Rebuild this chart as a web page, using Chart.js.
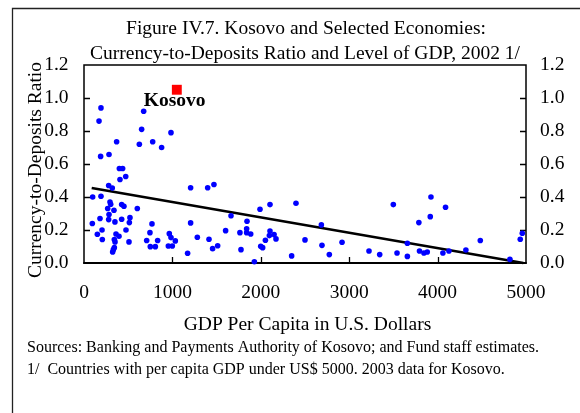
<!DOCTYPE html>
<html>
<head>
<meta charset="utf-8">
<script src="https://cdn.jsdelivr.net/npm/chart.js@4/dist/chart.umd.min.js"></script>
<style>
  html, body { margin: 0; padding: 0; background: #fff; }
  canvas { display: block; }
</style>
</head>
<body>
<canvas id="chart" width="580" height="413"></canvas>
<script>
// GDP per capita (US$) and currency-to-deposits ratio, selected economies
const gdpPerCapita = [
    192, 170, 675, 652, 984, 369, 626, 777, 878, 188,
    283, 400, 437, 472, 407, 279, 320, 98, 192, 294,
    302, 426, 452, 268, 339, 603, 1206, 1399, 1470, 283,
    520, 426, 181, 279, 350, 513, 94, 769, 1206, 475,
    204, 151, 362, 396, 746, 965, 984, 207, 343, 351,
    509, 709, 833, 1033, 1282, 1414, 1602, 1663, 1844, 1840,
    1840, 1886, 1764, 1512, 1455, 1776, 343, 332, 324, 750,
    807, 954, 999, 1172, 1927, 1991, 2104, 2398, 1999, 2021,
    2052, 2104, 2097, 2150, 2172, 2349, 2500, 2685, 2692, 2775,
    2919, 3224, 3345, 3499, 3541, 3658, 3658, 3788, 3795, 3925,
    3917, 4090, 3845, 3883, 4060, 4128, 4320, 4483, 4818, 4935,
    4958
];
const currencyRatio = [
    0.94, 0.86, 0.92, 0.81, 0.79, 0.735, 0.72, 0.735, 0.70, 0.646,
    0.658, 0.573, 0.573, 0.524, 0.506, 0.47, 0.454, 0.40, 0.405, 0.37,
    0.356, 0.354, 0.344, 0.33, 0.32, 0.33, 0.456, 0.456, 0.476, 0.294,
    0.275, 0.265, 0.27, 0.263, 0.249, 0.245, 0.239, 0.237, 0.243, 0.20,
    0.20, 0.174, 0.176, 0.162, 0.184, 0.178, 0.154, 0.142, 0.142, 0.128,
    0.128, 0.136, 0.136, 0.134, 0.156, 0.144, 0.196, 0.286, 0.253, 0.207,
    0.184, 0.176, 0.184, 0.105, 0.087, 0.081, 0.093, 0.081, 0.067, 0.099,
    0.099, 0.103, 0.103, 0.059, 0.008, 0.326, 0.354, 0.362, 0.101, 0.093,
    0.138, 0.194, 0.166, 0.172, 0.146, 0.043, 0.14, 0.231, 0.107, 0.051,
    0.126, 0.073, 0.051, 0.354, 0.061, 0.12, 0.04, 0.245, 0.073, 0.40,
    0.281, 0.338, 0.061, 0.067, 0.061, 0.073, 0.079, 0.136, 0.022, 0.144,
    0.18
];
const kosovoGdp = [1050];
const kosovoRatio = [1.05];
const trendGdp = [87, 4970];
const trendRatio = [0.454, 0.0];
const xTickValues = [0, 1000, 2000, 3000, 4000, 5000];
const yTickValues = [0, 0.2, 0.4, 0.6, 0.8, 1.0, 1.2];

const titleLines = [
    'Figure IV.7. Kosovo and Selected Economies:',
    'Currency-to-Deposits Ratio and Level of GDP, 2002 1/'
];
const xTitle = 'GDP Per Capita in U.S. Dollars';
const yTitle = 'Currency-to-Deposits Ratio';
const notes = [
    'Sources: Banking and Payments Authority of Kosovo; and Fund staff estimates.',
    '1/  Countries with per capita GDP under US$ 5000. 2003 data for Kosovo.'
];

const SERIF = '"Liberation Serif", "Times New Roman", serif';
const FONT_SIZE = 19.5;

const toPoints = (xs, ys) => xs.map((x, i) => ({ x, y: ys[i] }));

const textPlugin = {
    id: 'figureText',
    beforeDatasetsDraw(chart) {
        const { ctx, chartArea: { left, top, right, bottom } } = chart;
        const xs = chart.scales.x;
        const ys = chart.scales.y;
        ctx.save();
        ctx.strokeStyle = '#000';

        // inner tick marks
        ctx.lineWidth = 1.3;
        ctx.beginPath();
        xTickValues.slice(1, -1).forEach(v => {
            const px = Math.round(xs.getPixelForValue(v)) + 0.5;
            ctx.moveTo(px, bottom);
            ctx.lineTo(px, bottom - 6);
        });
        yTickValues.slice(1, -1).forEach(v => {
            const py = Math.round(ys.getPixelForValue(v)) + 0.5;
            ctx.moveTo(left, py);
            ctx.lineTo(left + 6, py);
            ctx.moveTo(right, py);
            ctx.lineTo(right - 6, py);
        });
        ctx.stroke();

        // plot frame
        ctx.lineWidth = 1.5;
        ctx.strokeRect(left, top, right - left, bottom - top);
        ctx.lineWidth = 2;
        ctx.beginPath();
        ctx.moveTo(left - 0.75, bottom);
        ctx.lineTo(right + 0.75, bottom);
        ctx.stroke();
        ctx.restore();
    },
    afterDraw(chart) {
        const { ctx } = chart;
        ctx.save();

        // outer figure border (clipped on right and bottom)
        ctx.strokeStyle = '#222';
        ctx.lineWidth = 1.3;
        ctx.beginPath();
        ctx.moveTo(12.5, 413);
        ctx.lineTo(12.5, 8.5);
        ctx.lineTo(580, 8.5);
        ctx.stroke();

        ctx.fillStyle = '#000';
        ctx.textBaseline = 'alphabetic';

        ctx.font = `${FONT_SIZE}px ${SERIF}`;
        ctx.textAlign = 'center';
        ctx.fillText(titleLines[0], 306, 33.5);
        ctx.fillText(titleLines[1], 305, 58.5);
        ctx.fillText(xTitle, 307.5, 330);

        ctx.save();
        ctx.translate(41, 170);
        ctx.rotate(-Math.PI / 2);
        ctx.fillText(yTitle, 0, 0);
        ctx.restore();

        // Kosovo label next to its marker
        const kx = chart.scales.x.getPixelForValue(kosovoGdp[0]);
        const ky = chart.scales.y.getPixelForValue(kosovoRatio[0]);
        ctx.font = `bold ${FONT_SIZE}px ${SERIF}`;
        ctx.textAlign = 'left';
        ctx.fillText('Kosovo', kx - 33, ky + 16);

        ctx.font = `16px ${SERIF}`;
        ctx.fillText(notes[0], 27, 351.5);
        ctx.fillText(notes[1], 27, 373.5);
        ctx.restore();
    }
};

const tickFont = { family: SERIF, size: FONT_SIZE };

const yAxis = (position, padding, width) => ({
    type: 'linear',
    position,
    min: 0,
    max: 1.2,
    afterBuildTicks: scale => { scale.ticks = yTickValues.map(value => ({ value })); },
    afterFit: scale => { scale.width = width; },
    grid: { display: false, drawTicks: false },
    border: { display: false },
    ticks: {
        color: '#000',
        font: tickFont,
        padding,
        callback: v => Number(v).toFixed(1),
    },
});

new Chart(document.getElementById('chart'), {
    type: 'scatter',
    data: {
        datasets: [
            {
                label: 'Trend',
                data: toPoints(trendGdp, trendRatio),
                showLine: true,
                borderColor: '#000',
                borderWidth: 2.6,
                pointRadius: 0,
                clip: false,
                order: 3,
            },
            {
                label: 'Selected economies',
                data: toPoints(gdpPerCapita, currencyRatio),
                backgroundColor: '#0000ff',
                borderWidth: 0,
                pointRadius: 2.8,
                clip: false,
                order: 2,
            },
            {
                label: 'Kosovo',
                data: toPoints(kosovoGdp, kosovoRatio),
                backgroundColor: '#ff0000',
                borderWidth: 0,
                pointStyle: 'rect',
                pointRadius: 7,
                clip: false,
                order: 1,
            },
        ],
    },
    options: {
        responsive: false,
        animation: false,
        layout: { padding: { top: 65, left: 0, right: 0, bottom: 0 } },
        plugins: {
            legend: { display: false },
            tooltip: { enabled: false },
        },
        scales: {
            x: {
                type: 'linear',
                position: 'bottom',
                min: 0,
                max: 5000,
                afterBuildTicks: scale => { scale.ticks = xTickValues.map(value => ({ value })); },
                afterFit: scale => { scale.height = 150; },
                grid: { display: false, drawTicks: false },
                border: { display: false },
                ticks: {
                    color: '#000',
                    font: tickFont,
                    padding: 18,
                    maxRotation: 0,
                    callback: v => String(v),
                },
            },
            y: yAxis('left', 15.5, 84),
            y2: yAxis('right', 14, 54),
        },
    },
    plugins: [textPlugin],
});
</script>
</body>
</html>
